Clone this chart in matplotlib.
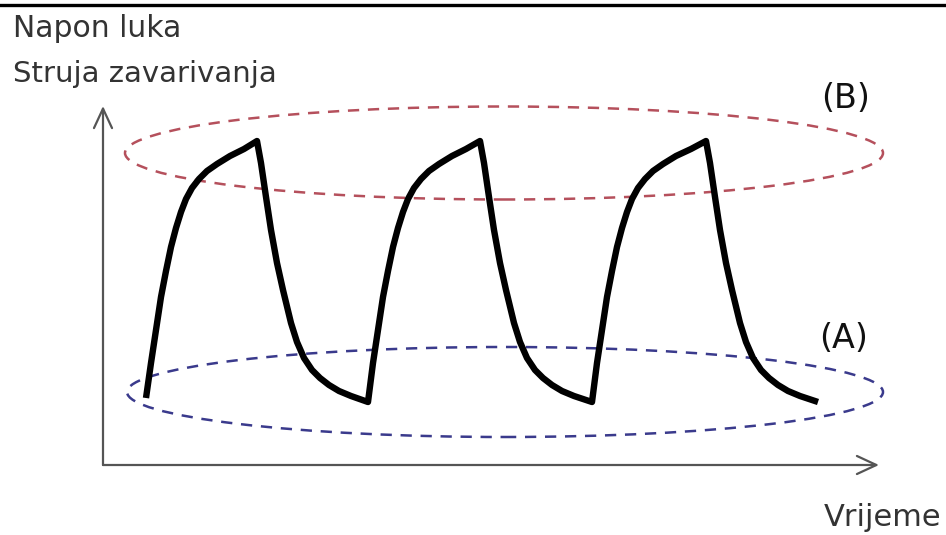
import matplotlib.pyplot as plt
from matplotlib.patches import Ellipse

# waveform of arc voltage / welding current (time units, amplitude units)
wave_t = [43, 48, 53, 58, 63, 68, 73, 78, 83, 89, 96, 104, 114, 127, 141, 154,
          158, 163, 168, 174, 180, 188, 194, 201, 209, 217, 226, 236, 248, 265,
          270, 275, 280, 285, 290, 295, 300, 305, 311, 318, 326, 336, 349, 363, 377,
          381, 386, 391, 397, 403, 411, 417, 424, 432, 440, 449, 459, 471, 489,
          494, 499, 504, 509, 514, 519, 524, 529, 535, 542, 550, 560, 573, 588, 603,
          607, 612, 617, 623, 629, 637, 643, 650, 658, 666, 675, 685, 697, 715]
wave_v = [67, 102, 135, 168, 194, 218, 237, 253, 266, 277, 286, 294, 301, 309, 316, 324,
          302, 268, 235, 202, 175, 142, 123, 107, 95, 87, 80, 74, 69, 63,
          102, 135, 168, 194, 218, 237, 253, 266, 277, 286, 294, 301, 309, 316, 324,
          302, 268, 235, 202, 175, 142, 123, 107, 95, 87, 80, 74, 69, 63,
          102, 135, 168, 194, 218, 237, 253, 266, 277, 286, 294, 301, 309, 316, 324,
          302, 268, 235, 202, 175, 142, 123, 107, 95, 87, 80, 74, 69, 63]

# regions: (center t, center v, width, height)
region_b = (401, 312, 758, 93)
region_a = (402, 73, 756, 90)

y_label_lines = ["Napon luka", "Struja zavarivanja"]
x_label = "Vrijeme"

fig = plt.figure(figsize=(9.46, 5.35), dpi=100)
ax = fig.add_axes([0, 0, 1, 1])
ax.set_xlim(-103, 843)
ax.set_ylim(-70, 465)
ax.axis("off")

# top frame line
ax.axhline(460.5, color="black", lw=2.4)

# axes with open arrow heads
axis_style = dict(arrowstyle="->,head_length=1.4,head_width=0.65", color="#555555",
                  lw=1.6, shrinkA=0, shrinkB=0, mutation_scale=10)
ax.annotate("", xy=(0, 359), xytext=(0, 0), arrowprops=axis_style)
ax.annotate("", xy=(776, 0), xytext=(0, 0), arrowprops=axis_style)

# dashed ellipses
for (cx, cy, w, h), col in [(region_b, "#b5505c"), (region_a, "#3a3a8c")]:
    ax.add_patch(Ellipse((cx, cy), w, h, fill=False, edgecolor=col, lw=1.8,
                         linestyle=(0, (4.5, 3.5)), zorder=2))

ax.plot(wave_t, wave_v, color="black", lw=4.6, solid_joinstyle="round",
        solid_capstyle="butt", zorder=3)

text_col = "#333333"
ax.text(-90, 428, y_label_lines[0], fontsize=21.5, color=text_col, va="baseline", ha="left")
ax.text(-90, 383, y_label_lines[1], fontsize=21, color=text_col, va="baseline", ha="left")
ax.text(838, -61, x_label, fontsize=22, color=text_col, va="baseline", ha="right")
ax.text(743, 366, "(B)", fontsize=24, color="#111111", va="center", ha="center")
ax.text(741, 126, "(A)", fontsize=24, color="#111111", va="center", ha="center")

fig.savefig("out.png", dpi=100, facecolor="white")
